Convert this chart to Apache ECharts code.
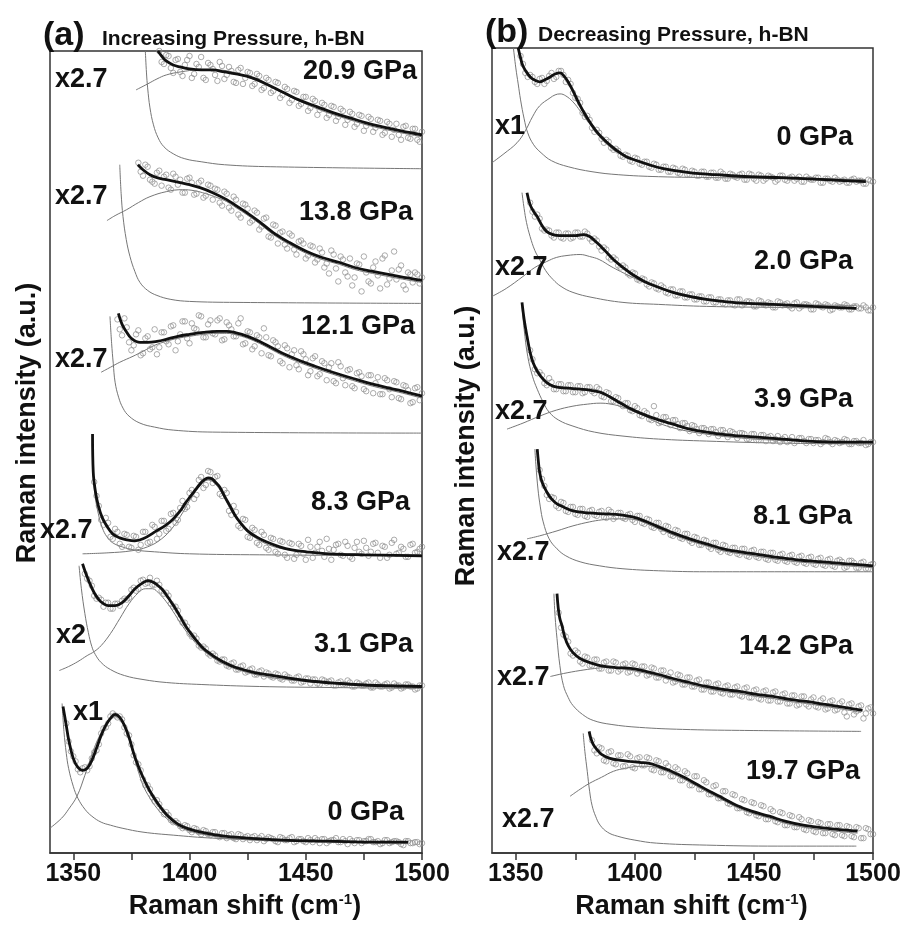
<!DOCTYPE html>
<html>
<head>
<meta charset="utf-8">
<script src="https://cdn.jsdelivr.net/npm/echarts/dist/echarts.min.js"></script>
<style>html,body{margin:0;padding:0;background:#fff}#c{width:909px;height:925px}</style>
</head>
<body>
<div id="c"></div>
<script>
// ---------------- DATA (heights above each spectrum's own baseline, a.u.) ----------------
const xTicks = [1350, 1375, 1400, 1425, 1450, 1475, 1500];
const xTickLabels = [1350, 1400, 1450, 1500];

// Panel (a): increasing pressure (bottom -> top)
const aPressure = ['0 GPa', '3.1 GPa', '8.3 GPa', '12.1 GPa', '13.8 GPa', '20.9 GPa'];
const aMult = ['x1', 'x2', 'x2.7', 'x2.7', 'x2.7', 'x2.7'];
const aBaseline = [10, 165, 298, 421, 551, 687];

const aFit0 = [[1345.6,137],[1347,118],[1348,104],[1350,85],[1352,76],[1354,73],[1356,75],[1358,83],[1360,95],[1362,108],[1364,118],[1366,125],[1368,129],[1370,126],[1372,118],[1374,106],[1376,90],[1378,77],[1380,66],[1383,52],[1386,41],[1390,29],[1395,19],[1400,14],[1407,10],[1415,7],[1425,5],[1440,3],[1460,2],[1480,1],[1494,1]];
const aLow0 = [[1345.2,140],[1346,112],[1347,90],[1348,75],[1350,57],[1352,45],[1355,34],[1358,27],[1362,21],[1366,18],[1371,15],[1380,11],[1393,8],[1410,5],[1435,3],[1460,2],[1493,1]];
const aBand0 = [[1340,15],[1345,25],[1348,34],[1351.6,47],[1355,68],[1358.5,92],[1361,106],[1364.5,120],[1368.4,127],[1371,123],[1373,112],[1375.7,90],[1378,72],[1380,58],[1383,45],[1386,35],[1390,25],[1395,17],[1400,12],[1410,7],[1420,4],[1440,2],[1460,1],[1493,0]];
const aPts0 = [120,92,82,71,76,77,91,99,115,120,130,126,124,110,99,81,73,58,54,42,39,29,28,21,20,15,17,11,14,9,12,8,11,6,10,8,5,9,4,7,6,3,7,4,5,2,6,3,5,1,4,2,5,1,3,4,0,3,5,1,2,4,0,3,2,4,1,2,0,3,1,2,-1,2,0,1,-1];
const aPts0b = [102,87,74,75,73,85,93,110,116,127,128,127,116,108,88,79,64,58,46,43,33,31,23,22,17,18,13,15,11,13,9,11,7,10,5,9,4,8,6,3,7,5,2,6,4,1,5,3,6,2,4,1,3,5,0,4,2,3,1,4,-1,2,3,0,2,4,1,-1,3,0,2,1,-2,2,0,1,0];

const aFit1 = [[1354,125],[1355,118],[1357,106],[1359,96],[1361,89],[1363,85],[1365,83],[1368,83],[1371,86],[1374,93],[1377,101],[1380,106],[1382,108],[1384,107],[1386,104],[1388,100],[1390,94],[1392,87],[1394,80],[1396,72],[1398,64],[1400,57],[1403,48],[1406,40],[1410,33],[1415,26],[1420,21],[1428,16],[1436,13],[1450,8],[1465,5],[1480,3],[1500,2]];
const aLow1 = [[1352.5,123],[1353.5,100],[1355,75],[1356.5,56],[1358,42],[1359.5,34],[1362,26],[1366,19],[1372,13],[1380,9],[1390,6],[1405,4],[1430,2],[1460,1],[1500,0]];
const aBand1 = [[1344,18],[1348,22],[1352,27],[1356,33],[1359,37],[1362,43],[1366,55],[1370,70],[1374,85],[1378,96],[1381,100],[1384,100],[1387,95],[1390,87],[1393,77],[1396,66],[1400,53],[1405,40],[1410,31],[1416,23],[1425,16],[1435,11],[1450,7],[1470,4],[1500,2]];
const aPts1 = [115,108,93,91,82,86,80,85,88,89,99,98,108,105,111,104,104,95,93,82,78,66,62,52,50,41,40,33,33,27,29,22,26,19,23,17,20,14,18,16,12,15,10,14,11,8,12,7,10,9,5,9,6,8,3,7,4,6,2,5,3,6,1,4,2,5,1,3,0,4,2,-1,3];
const aPts1b = [110,103,90,89,86,80,85,83,90,91,101,100,109,106,104,108,98,96,85,82,70,66,55,53,43,42,35,35,28,29,23,25,19,22,16,19,14,17,12,15,11,14,9,12,8,11,6,10,5,9,4,8,7,3,6,4,8,2,6,3,5,1,6,2,4,0,5,3,1,4,2,0,3];

const aFit2 = [[1358.3,122],[1358.6,84],[1359.5,65],[1360.8,50],[1362.5,38],[1364.4,30],[1367,22],[1370,18],[1373,16],[1376.5,15],[1380,17],[1385.8,25],[1390,31],[1393,37],[1396,45],[1398,52],[1400.2,59],[1402.5,66],[1404.5,72],[1406.3,76],[1408,78],[1409.8,77],[1411.5,73],[1413,69],[1415,60],[1417.4,50],[1419.5,41],[1421.6,34],[1425,25],[1428.8,19],[1433,14],[1438.8,9],[1444,6],[1450.3,4],[1460,2],[1475,1],[1500,0]];
const aLow2 = [[1358.2,122],[1358.5,84],[1359.4,60],[1360.8,42],[1362.5,28],[1364.5,19],[1367,13],[1371,9],[1376,6],[1385,4],[1400,2],[1430,1],[1500,0]];
const aBand2 = [[1354,2],[1365,3],[1375,5],[1382,9],[1388,17],[1393,29],[1397,43],[1401,59],[1404.5,70],[1408,76],[1411.5,71],[1415,58],[1418,45],[1421.6,33],[1425,24],[1429,17],[1434,11],[1440,7],[1450,4],[1465,2],[1500,1]];
const aPts2 = [74,50,31,33,17,24,9,21,8,19,11,24,14,29,22,35,27,43,36,55,49,66,61,79,71,84,79,62,66,45,50,30,37,19,28,13,24,8,18,4,15,1,13,-3,12,2,16,-2,9,5,17,-4,11,1,14,-1,8,4,15,0,12,3,10,-2,13,2,9,-1,11,3,7];
const aPts2b = [60,36,38,19,27,12,22,9,20,6,24,13,31,17,35,25,42,33,48,47,63,57,76,68,85,73,80,60,63,41,44,28,36,18,26,11,21,6,17,2,14,-2,12,1,10,-4,9,3,14,-1,7,6,12,0,10,-3,14,2,8,4,13,-2,9,1,16,3,7,-1,12,4,9];

const aFit3 = [[1369.4,120],[1371,109],[1373,101],[1375,95],[1378.7,91],[1382,91],[1386,92],[1390,94],[1395,97],[1400,99],[1406,101],[1411.8,102],[1416,102],[1420,100.5],[1425,97],[1430,92],[1435,86],[1440,80],[1447,73],[1454,67],[1461.6,61],[1470,55],[1478.8,49],[1490,43],[1500,37]];
const aLow3 = [[1365.8,117],[1366.5,90],[1367.2,70],[1368,51],[1369.5,36],[1371.4,25],[1374,17],[1378.7,10],[1385,6],[1393,3],[1410,1],[1500,0]];
const aBand3 = [[1362,61],[1366,66],[1370,71],[1375.7,77],[1380,82],[1385,88],[1390,92],[1395,95],[1400,97],[1406,99],[1412,100],[1416,100],[1420,98.5],[1425,95],[1430,90],[1435,84],[1440,78],[1447,71],[1454,65],[1461.6,59],[1470,53],[1478.8,47],[1490,41],[1500,35]];
const aPts3 = [114,98,106,83,99,78,95,84,104,86,101,89,108,92,112,95,110,104,117,96,113,99,115,94,108,97,110,89,102,84,98,80,96,77,91,72,88,66,83,64,79,58,75,57,72,53,70,50,67,48,64,45,61,44,58,40,56,39,53,36,51,34,47,30,45,33];
const aPts3b = [104,115,91,88,103,80,97,86,79,101,92,107,83,99,112,90,105,118,96,109,100,113,93,111,104,97,115,90,101,87,96,105,78,93,87,70,85,79,68,82,74,62,77,59,70,66,52,71,55,63,47,60,57,42,58,50,39,55,44,52,35,48,43,31,46,40];

const aFit4 = [[1377.8,139],[1380,134],[1383,129],[1386,126],[1390,124],[1396,121],[1400,119],[1404.5,116],[1410,111],[1416,104],[1420,98],[1424.6,91],[1430,82],[1436,71],[1443,61],[1450.4,52],[1457,46],[1464.6,41],[1471,36],[1478.8,32],[1490,27],[1500,23]];
const aLow4 = [[1370,139],[1370.6,110],[1371.4,87],[1372.8,64],[1374.4,47],[1376.5,32],[1378.7,21],[1382,13],[1386,8],[1392,4],[1400,2],[1420,1],[1500,0]];
const aBand4 = [[1364.5,83],[1368,88],[1373,94],[1378,101],[1383,107],[1390,112],[1397,114],[1402,113],[1407,110],[1412,106],[1416,102],[1420,96],[1424.6,89],[1430,80],[1436,69],[1443,59],[1450.4,50],[1457,44],[1464.6,39],[1471,34],[1478.8,30],[1490,25],[1500,21]];
const aPts4 = [141,128,137,122,131,118,129,114,127,124,111,126,109,121,106,119,104,114,98,110,93,104,86,99,81,93,74,85,67,79,60,72,55,68,49,63,45,58,41,55,36,30,49,22,44,27,18,40,12,31,20,42,15,48,25,52,34,18,31,21,29,26];
const aPts4b = [132,139,124,120,133,127,116,130,119,111,125,121,110,123,108,118,115,101,112,96,107,89,100,95,83,91,77,86,66,78,71,59,70,54,62,60,48,57,44,51,40,53,35,47,31,45,26,39,47,22,36,28,45,19,33,24,38,14,29,31,20];

const aFit5 = [[1386.4,117],[1388,112],[1390,107],[1393,103],[1396,101],[1400,99],[1405,98],[1410,98],[1415,96],[1420,94],[1427,90],[1433,84],[1440,76],[1447,68],[1455,61],[1462,55],[1469,50],[1476,45],[1483,41],[1491,37],[1500,33]];
const aLow5 = [[1381,117],[1381.5,95],[1382,80],[1383,60],[1384.5,43],[1386.5,30],[1389,21],[1393,14],[1398,9],[1405,6],[1415,3],[1435,1],[1500,-1]];
const aBand5 = [[1377,78],[1382,84],[1386,89],[1390,93],[1396,96],[1404,98],[1412,98],[1420,95],[1427,89],[1433,83],[1440,75],[1447,67],[1455,59],[1462,53],[1469,48],[1476,43],[1483,39],[1491,35],[1500,31]];
const aPts5 = [117,104,112,95,109,92,108,90,104,111,88,103,93,106,89,101,86,98,84,96,82,94,78,90,75,86,70,81,65,77,62,71,57,69,53,65,50,62,47,59,43,56,41,53,37,51,36,48,33,46,31,44,28,42,29,39,26];
const aPts5b = [106,113,100,108,96,103,112,94,101,90,105,99,87,102,93,97,85,100,90,95,84,92,80,88,77,85,73,79,68,76,64,71,60,67,58,63,53,61,51,57,48,54,44,52,42,49,40,47,35,44,38,33,41,30,39,28,36];

// Panel (b): decreasing pressure (top -> bottom)
const bPressure = ['0 GPa', '2.0 GPa', '3.9 GPa', '8.1 GPa', '14.2 GPa', '19.7 GPa'];
const bMult = ['x1', 'x2.7', 'x2.7', 'x2.7', 'x2.7', 'x2.7'];
const bBaseline = [672, 546, 410, 282, 122, 7];

const bFit0 = [[1351,135],[1352,125],[1353,117],[1355,109],[1357,104],[1360,101],[1362,103],[1364.4,106],[1366.5,109],[1368.6,110],[1370.5,106],[1372,101],[1374,92],[1376,82],[1378,73],[1381,61],[1384,51],[1388,41],[1392,33],[1396.4,26],[1401,22],[1406,18],[1412,14],[1419.8,11],[1427,9],[1434,8],[1448,6],[1462,5],[1480,3],[1497,1]];
const bLow0 = [[1349,135],[1350,115],[1351,99],[1352,83],[1353.5,64],[1355,50],[1357.5,38],[1360.6,30],[1365,22],[1372,16],[1382,11],[1393,8],[1410,6],[1435,5],[1460,4],[1497,3]];
const bBand0 = [[1340,20],[1345,29],[1350.5,40],[1354,52],[1357,66],[1360,77],[1364.4,85],[1366.5,88],[1368.6,89],[1371,87],[1374,81],[1377,72],[1381,59],[1384.5,48],[1388,39],[1393,30],[1399,23],[1408,16],[1420,11],[1440,7],[1462,5],[1480,4],[1497,3]];
const bPts0 = [127,110,108,101,104,99,107,104,112,108,103,90,84,70,67,55,53,44,43,35,34,27,28,22,25,19,21,16,19,13,16,11,15,10,14,8,12,7,11,6,10,5,11,4,9,6,8,3,9,4,8,2,7,5,3,7,2,6,4,1,6,3,5,0,4,2,5,1,3,0,4,2,-1,3,1];
const bPts0b = [119,106,106,99,105,102,110,106,112,101,99,85,80,66,63,51,50,40,41,33,32,26,27,21,24,18,21,15,18,13,16,11,14,9,13,8,11,7,11,6,10,5,9,4,8,5,9,3,8,2,7,4,6,1,7,3,5,2,6,1,4,3,5,0,4,1,3,2,0,3,1,2,-1,2];

const bFit1 = [[1354.7,116],[1356,104],[1357.5,97],[1359,92],[1361,83],[1363,77],[1365.5,74],[1368.5,73],[1372,73],[1375,73],[1378.5,74],[1381,72],[1384,66],[1387,59],[1391,49],[1395,41],[1399,34],[1404,27],[1409,22],[1416,16],[1423,12],[1430,9],[1437,7],[1447,5],[1458,4],[1475,2],[1493,0]];
const bLow1 = [[1352.6,116],[1353.5,100],[1354.5,86],[1356,72],[1358,58],[1360,49],[1362.5,38],[1365.6,29],[1369,22],[1374,16],[1382,11],[1395,6],[1410,4],[1430,2],[1460,1],[1493,0]];
const bBand1 = [[1340,12],[1346,20],[1353,32],[1358,41],[1363,47],[1367,51],[1371.5,53],[1377,54],[1381,52],[1385,49],[1390,42],[1394,37],[1400,30],[1405,25],[1414,17],[1423,11],[1433,8],[1444,6],[1460,4],[1493,3]];
const bPts1 = [106,92,90,78,78,71,76,70,75,71,76,72,75,67,68,58,59,49,49,41,41,33,35,28,29,22,25,19,21,15,19,13,17,11,14,9,12,7,11,6,9,4,8,3,9,5,7,2,8,4,6,1,7,3,5,0,6,2,4,-1,5,2,4,-2,3,1,4,-1,2,0,3,-2,1];
const bPts1b = [97,94,80,79,73,76,71,75,70,76,72,77,70,70,62,61,51,51,43,43,35,36,29,30,24,26,20,23,16,19,13,17,11,14,9,12,7,11,6,9,5,8,4,9,3,7,6,2,7,3,5,1,6,4,2,5,0,4,3,-1,4,1,3,-1,2,1,3,-1,2,0,1,-2];

const bFit2 = [[1352.6,142],[1353.5,125],[1354.7,108],[1356,92],[1357.2,82],[1359,73],[1361.5,65],[1364,60],[1367.3,57],[1372,56],[1377,55],[1381,54],[1385.4,52],[1389,48],[1392.6,43],[1397,37],[1402.3,31],[1409,25],[1416,20],[1423,15],[1430.3,12],[1440,9],[1451.4,7],[1462,5],[1472.4,3],[1485,2],[1500,2]];
const bLow2 = [[1352.6,138],[1353.5,115],[1355,88],[1357,68],[1359,55],[1361.5,42],[1364,32],[1368,24],[1374,18],[1383,12],[1395,8],[1410,5],[1430,3],[1460,1],[1500,0]];
const bBand2 = [[1346.3,15],[1353,21],[1360,28],[1367,34],[1374,38],[1380,40],[1385.4,41],[1390,40],[1395,37],[1400,32],[1405,27],[1409,22],[1415,17],[1422,13],[1430,10],[1440,7],[1458,4],[1480,3],[1500,2]];
const bPts2 = [94,75,72,61,66,55,60,53,59,52,58,51,57,53,57,48,52,43,47,40,41,34,38,29,33,25,38,21,27,23,24,20,21,18,19,15,16,14,15,12,14,11,13,10,11,10,5,10,4,9,7,3,8,5,2,7,3,6,1,5,4,0,6,2,4,1,5,0,3,1,4,0,2];
const bPts2b = [85,71,69,59,62,55,60,53,59,52,58,52,57,51,55,47,51,43,46,38,41,33,36,28,31,24,29,22,27,19,24,16,21,13,18,11,16,10,15,8,14,7,12,6,11,5,10,4,9,3,8,5,2,7,4,1,6,3,5,1,4,2,5,0,3,2,4,0,3,1,-1,2];

const bFit3 = [[1359,123],[1359.5,110],[1360,100],[1361,90],[1363,80],[1365,73],[1367.3,68],[1370,65],[1374,61],[1380,59],[1388,58],[1394,57],[1399,55],[1404,51],[1409,46],[1416,39],[1423,33],[1430,28],[1437,23],[1447,19],[1458,15],[1468,12],[1479,10],[1489,8],[1500,6]];
const bLow3 = [[1358,123],[1358.5,105],[1359.3,83],[1360.3,65],[1361.5,50],[1364,33],[1367.3,23],[1371,16],[1377,10],[1385,6],[1395,3],[1410,1],[1430,0],[1500,0]];
const bBand3 = [[1354.7,33],[1360,36],[1367.3,41],[1374,46],[1381,50],[1386,52],[1391,53],[1397,53],[1402,51],[1406,47],[1409,44],[1416,37],[1423,31],[1430,26],[1437,21],[1447,17],[1458,13],[1468,10],[1479,8],[1489,6],[1500,4]];
const bPts3 = [102,86,73,74,64,69,60,65,57,63,55,62,56,61,54,60,55,59,53,58,50,56,48,52,44,49,40,45,36,41,33,38,29,34,27,31,23,29,20,26,19,24,17,23,15,22,14,20,12,19,11,18,10,17,9,16,8,15,7,14,6,13,5,12,4,11,9,4,10,3,8];
const bPts3b = [93,77,75,66,70,61,65,58,63,56,61,57,60,55,62,53,59,54,57,52,56,49,53,45,49,43,46,37,42,34,38,31,35,27,32,25,29,22,27,20,24,18,23,16,21,15,20,13,19,12,17,11,16,10,15,9,14,8,13,7,12,6,11,10,5,11,4,9,3,7];

const bFit4 = [[1367.3,138],[1367.8,124],[1368.5,113],[1369.4,106],[1370.5,95],[1372,86],[1374,79],[1377,73],[1381,69],[1385.4,66],[1392,64],[1399,63],[1405,60],[1410,57],[1416,53],[1423,49],[1430,45],[1437,42],[1444,40],[1451,37],[1458,35],[1465,32],[1472,30],[1480,27],[1488,24],[1495.6,21]];
const bLow4 = [[1366,138],[1366.5,115],[1367.3,93],[1368.5,66],[1370,46],[1372,34],[1374,26],[1378,17],[1382.5,11],[1390,7],[1402,4],[1420,2],[1444,1],[1495,0]];
const bBand4 = [[1364.5,55],[1370,58],[1377,61],[1383,63],[1388,64],[1394,63],[1399,61],[1405,58],[1410,55],[1416,51],[1423,47],[1430,43],[1437,40],[1444,38],[1451,35],[1458,33],[1465,30],[1472,28],[1480,25],[1488,22],[1495,19]];
const bPts4 = [119,97,90,76,79,68,74,66,72,63,70,61,69,62,68,60,67,61,65,57,63,54,61,55,49,57,47,54,45,51,42,49,40,47,39,45,37,44,36,43,34,41,33,40,31,39,30,37,28,36,26,35,27,32,25,31,22,30,21,28,19,27,17,25,13,23,18];
const bPts4b = [104,95,78,81,70,75,66,72,63,69,61,70,60,67,59,68,58,65,56,64,54,61,51,59,50,56,47,54,45,52,42,49,40,48,38,46,37,45,35,44,34,42,32,41,31,40,30,38,28,36,27,35,25,34,24,33,23,31,22,30,15,28,20,26,18,24];

const bFit5 = [[1380.8,115],[1381.5,108],[1382.5,102],[1384,97],[1386,92],[1389.5,88],[1394,86],[1397.8,85],[1402,84],[1406,83],[1410,80],[1414.4,76],[1418,72],[1421.5,68],[1426,62],[1431.3,55],[1437,48],[1442.6,41],[1449,35],[1456.5,30],[1463,25],[1470.7,21],[1480,18],[1493.5,15]];
const bLow5 = [[1378.3,113],[1379,95],[1380,75],[1381,55],[1382,41],[1383.5,30],[1385.4,21],[1388.5,14],[1392.6,10],[1400,6],[1409,3],[1430,1],[1460,0],[1493,0]];
const bBand5 = [[1372.8,50],[1377,57],[1381,63],[1386,69],[1391,75],[1396,78],[1402,80],[1406,80],[1410,78],[1414.4,74],[1418,70],[1421.5,66],[1426,60],[1431.3,53],[1437,46],[1442.6,39],[1449,33],[1456.5,28],[1463,23],[1470.7,19],[1480,16],[1493.5,13]];
const bPts5 = [106,93,98,85,95,82,91,80,90,78,89,81,88,76,85,74,80,70,77,66,73,61,70,57,64,52,61,48,55,42,51,38,46,33,43,30,40,27,35,24,33,21,30,19,27,16,25,14,23,13,22,11,21,10,19,9,18,8,17,12];
const bPts5b = [96,99,86,94,83,91,80,92,79,88,81,89,77,86,74,83,70,79,66,75,61,70,57,66,52,60,48,55,43,52,38,47,34,44,31,41,27,37,25,34,21,31,19,29,17,26,15,24,13,22,12,21,11,20,10,19,8,18,12];

// point grids: first set starts at *Start, second set one unit later; step 2 cm-1 each
const ptStep = 2;
const aPtStart = [1347, 1355, 1359, 1369, 1378, 1387];
const aPtStartB = [1348, 1356, 1360, 1370, 1379, 1388];
const bPtStart = [1352, 1356, 1356, 1360, 1368, 1382];
const bPtStartB = [1353, 1357, 1357, 1361, 1369, 1383];

const aFits = [aFit0, aFit1, aFit2, aFit3, aFit4, aFit5];
const aLows = [aLow0, aLow1, aLow2, aLow3, aLow4, aLow5];
const aBands = [aBand0, aBand1, aBand2, aBand3, aBand4, aBand5];
const aPts = [aPts0, aPts1, aPts2, aPts3, aPts4, aPts5];
const aPtsB = [aPts0b, aPts1b, aPts2b, aPts3b, aPts4b, aPts5b];
const bFits = [bFit0, bFit1, bFit2, bFit3, bFit4, bFit5];
const bLows = [bLow0, bLow1, bLow2, bLow3, bLow4, bLow5];
const bBands = [bBand0, bBand1, bBand2, bBand3, bBand4, bBand5];
const bPts = [bPts0, bPts1, bPts2, bPts3, bPts4, bPts5];
const bPtsB = [bPts0b, bPts1b, bPts2b, bPts3b, bPts4b, bPts5b];

// ---------------- LAYOUT / STYLE ----------------
const FF = '"Liberation Sans", Arial, Helvetica, sans-serif';
const grids = [
  { left: 50, top: 51, width: 372, height: 804 },
  { left: 492, top: 48, width: 381, height: 807 }
];
const aPressPos = [[404,813],[413,645],[410,503],[415,327],[413,213],[417,72]];
const aMultPos = [[73,713],[56,636],[40,531],[55,360],[55,197],[55,80]];
const bPressPos = [[853,138],[853,262],[853,400],[852,517],[853,647],[860,772]];
const bMultPos = [[495,127],[495,268],[495,412],[497,553],[497,678],[502,820]];

const series = [];
function addSpectrum(gi, fit, low, band, pts, start, ptsB, startB, base) {
  const shift = p => [p[0], p[1] + base];
  const thin = { color: '#767676', width: 1 };
  series.push({ type: 'line', xAxisIndex: gi, yAxisIndex: gi, data: low.map(shift), smooth: 0.4, showSymbol: false, lineStyle: thin, z: 1, silent: true });
  series.push({ type: 'line', xAxisIndex: gi, yAxisIndex: gi, data: band.map(shift), smooth: 0.4, showSymbol: false, lineStyle: thin, z: 1, silent: true });
  const pdata = pts.map((v, i) => [start + i * ptStep, v + base])
    .concat(ptsB.map((v, i) => [startB + i * ptStep, v + base]));
  series.push({ type: 'scatter', xAxisIndex: gi, yAxisIndex: gi, data: pdata,
    symbol: 'circle', symbolSize: 5.5,
    itemStyle: { color: 'rgba(255,255,255,0)', borderColor: '#8c8c8c', borderWidth: 0.9 }, z: 2, silent: true });
  series.push({ type: 'line', xAxisIndex: gi, yAxisIndex: gi, data: fit.map(shift), smooth: 0.4, showSymbol: false, lineStyle: { color: '#111', width: 2.8 }, z: 3, silent: true });
}
for (let i = 0; i < 6; i++) addSpectrum(0, aFits[i], aLows[i], aBands[i], aPts[i], aPtStart[i], aPtsB[i], aPtStartB[i], aBaseline[i]);
for (let i = 0; i < 6; i++) addSpectrum(1, bFits[i], bLows[i], bBands[i], bPts[i], bPtStart[i], bPtsB[i], bPtStartB[i], bBaseline[i]);

function xAxisOf(gi) {
  return {
    gridIndex: gi, type: 'value', min: 1340, max: 1500,
    splitLine: { show: false },
    axisLine: { show: true, lineStyle: { color: '#333', width: 1.5 } },
    axisTick: { show: true, inside: false, length: 7, customValues: xTicks, lineStyle: { color: '#333', width: 1.5 } },
    axisLabel: { customValues: xTickLabels, formatter: v => String(v), margin: 9, color: '#111', fontSize: 25, fontWeight: 'bold', fontFamily: FF },
    name: '{t|Raman shift (cm}{s|-1}{t|)}',
    nameLocation: 'middle', nameGap: 36,
    nameTextStyle: { padding: [0, 0, 0, 18], rich: {
      t: { fontSize: 27, fontWeight: 'bold', fontFamily: FF, color: '#111' },
      s: { fontSize: 15, fontWeight: 'bold', fontFamily: FF, color: '#111', verticalAlign: 'top', padding: [0, 0, 14, 0] }
    } }
  };
}

const graphics = [];
function txt(text, x, y, font, align, rot) {
  graphics.push({ type: 'text', x: x, y: y, rotation: rot || 0, silent: true, z: 100,
    style: { text: text, font: font, fill: '#111', textAlign: align, textVerticalAlign: 'middle' } });
}
const big = 'bold 27px ' + FF;
for (let i = 0; i < 6; i++) {
  txt(aPressure[i], aPressPos[i][0], aPressPos[i][1], big, 'right');
  txt(aMult[i], aMultPos[i][0], aMultPos[i][1], big, 'left');
  txt(bPressure[i], bPressPos[i][0], bPressPos[i][1], big, 'right');
  txt(bMult[i], bMultPos[i][0], bMultPos[i][1], big, 'left');
}
txt('(a)', 43, 36, 'bold 34px ' + FF, 'left');
txt('Increasing Pressure, h-BN', 102, 39, 'bold 21px ' + FF, 'left');
txt('(b)', 485, 33, 'bold 34px ' + FF, 'left');
txt('Decreasing Pressure, h-BN', 538, 35, 'bold 21px ' + FF, 'left');
txt('Raman intensity (a.u.)', 28, 423, big, 'center', Math.PI / 2);
txt('Raman intensity (a.u.)', 467, 446, big, 'center', Math.PI / 2);

const chart = echarts.init(document.getElementById('c'), null, { renderer: 'canvas' });
chart.setOption({
  animation: false,
  backgroundColor: '#fff',
  grid: grids.map(g => Object.assign({ show: true, borderColor: '#333', borderWidth: 1.5, backgroundColor: 'rgba(0,0,0,0)' }, g)),
  xAxis: [xAxisOf(0), xAxisOf(1)],
  yAxis: [
    { gridIndex: 0, type: 'value', min: 0, max: 804, show: false },
    { gridIndex: 1, type: 'value', min: 0, max: 807, show: false }
  ],
  series: series,
  graphic: graphics
});
</script>
</body>
</html>
